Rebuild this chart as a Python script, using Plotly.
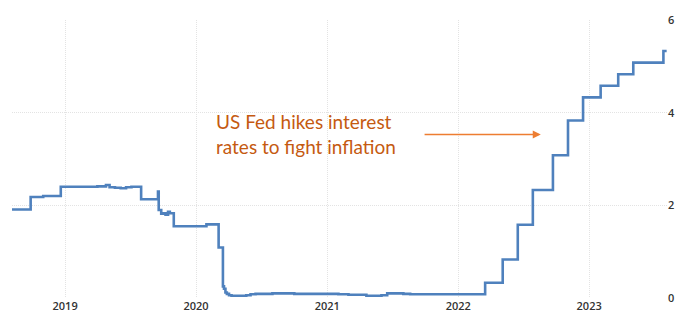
import plotly.graph_objects as go

# Effective policy rate (step series)
dates = [
    "2018-08-06", "2018-09-27", "2018-11-01", "2018-12-20", "2019-03-01",
    "2019-04-01", "2019-04-25", "2019-05-05", "2019-05-20", "2019-06-05",
    "2019-06-20", "2019-07-05", "2019-08-01", "2019-09-17", "2019-09-19",
    "2019-09-26", "2019-10-01", "2019-10-08", "2019-10-15", "2019-10-20",
    "2019-10-31", "2020-01-30", "2020-03-04", "2020-03-16", "2020-03-19",
    "2020-03-23", "2020-03-27", "2020-04-02", "2020-04-09", "2020-05-20",
    "2020-06-01", "2020-06-15", "2020-08-01", "2020-10-01", "2021-02-01",
    "2021-03-01", "2021-04-20", "2021-06-01", "2021-06-17", "2021-08-01",
    "2021-08-20", "2022-03-17", "2022-05-05", "2022-06-16", "2022-07-28",
    "2022-09-22", "2022-11-03", "2022-12-15", "2023-02-02", "2023-03-23",
    "2023-05-04", "2023-07-27", "2023-08-05",
]
rates = [
    1.91, 2.18, 2.20, 2.40, 2.40,
    2.41, 2.44, 2.39, 2.38, 2.37,
    2.39, 2.40, 2.13, 2.30, 1.90,
    1.82, 1.83, 1.80, 1.86, 1.83,
    1.55, 1.59, 1.09, 0.25, 0.20,
    0.12, 0.09, 0.06, 0.05, 0.06,
    0.08, 0.09, 0.10, 0.09, 0.08,
    0.07, 0.05, 0.06, 0.10, 0.09,
    0.08, 0.33, 0.83, 1.58, 2.33,
    3.08, 3.83, 4.33, 4.58, 4.83,
    5.08, 5.33, 5.33,
]

x_ticks = ["2019-01-01", "2020-01-01", "2021-01-01", "2022-01-01", "2023-01-01"]
x_tick_labels = ["2019", "2020", "2021", "2022", "2023"]
y_ticks = [0, 2, 4, 6]

note_text = "US Fed hikes interest<br>rates to fight inflation"

fig = go.Figure()
fig.add_trace(go.Scatter(
    x=dates, y=rates, mode="lines", line_shape="hv",
    line=dict(color="#4F81BD", width=2.6), hoverinfo="skip", showlegend=False,
))

fig.add_annotation(
    x="2020-02-20", y=3.53, xref="x", yref="y", xanchor="left", yanchor="middle",
    text=note_text, showarrow=False, align="left",
    font=dict(family="Lato", size=19, color="#C55A11"),
)
fig.add_annotation(
    x="2022-08-19", y=3.53, ax="2021-09-25", ay=3.53,
    xref="x", yref="y", axref="x", ayref="y", text="",
    showarrow=True, arrowhead=2, arrowsize=1, arrowwidth=1.6, arrowcolor="#ED7D31",
)

tickfont = dict(family="Open Sans", size=11, color="#333333", weight=600)
grid = dict(showgrid=True, gridcolor="#e3e3e3", griddash="1px,1px", gridwidth=1,
            zeroline=False, showline=False, ticks="", tickfont=tickfont)

fig.update_layout(
    width=690, height=336,
    margin=dict(l=12, r=23, t=16, b=38),
    paper_bgcolor="white", plot_bgcolor="white",
    xaxis=dict(range=["2018-08-06", "2023-08-06"], tickvals=x_ticks,
               ticktext=x_tick_labels, **grid),
    yaxis=dict(range=[0, 6], tickvals=y_ticks, side="right", **grid),
)

fig.write_html("out.html")
